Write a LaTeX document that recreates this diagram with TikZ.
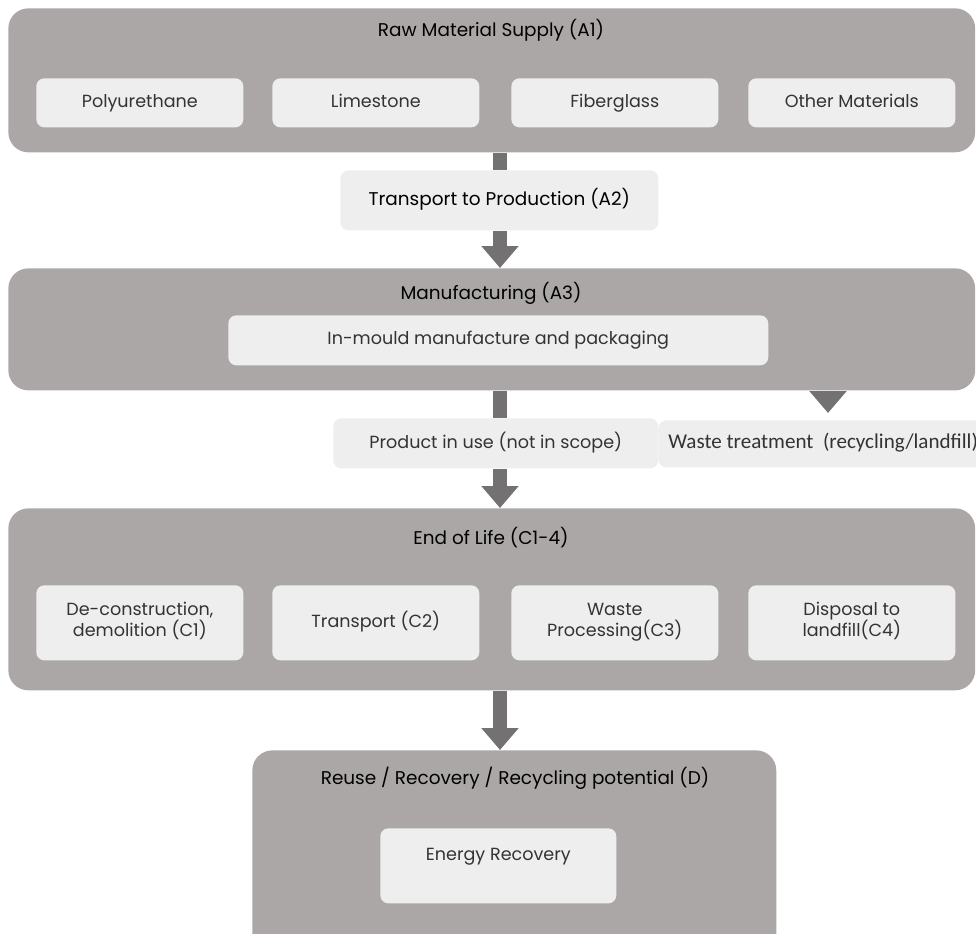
\documentclass[tikz,border=0pt]{standalone}
\usepackage{fontspec}
\setmainfont{Poppins}
\newfontfamily\calfont{Carlito}
\usetikzlibrary{arrows.meta,positioning}
\definecolor{boxgray}{HTML}{ABA7A7}
\definecolor{cellgray}{HTML}{EEEEEE}
\definecolor{flowgray}{HTML}{737171}

\begin{document}
\begin{tikzpicture}[x=0.02cm,y=-0.02cm,
  stage/.style={fill=boxgray,rounded corners=0.4cm,anchor=north west,inner sep=0},
  cell/.style={fill=cellgray,rounded corners=0.16cm,anchor=north west,inner sep=0,
    align=center,text=black!80,font=\fontsize{10}{12}\selectfont,
    execute at begin node=\strut,execute at end node=\strut},
  title/.style={text=black,font=\fontsize{10.5}{12}\selectfont},
  flow/.style={draw=flowgray,line width=0.28cm},
  head/.style={-{Triangle[width=0.72cm,length=0.44cm]}}]
  \useasboundingbox (0,0) rectangle (976,933);

  % raw material supply
  \node[stage,minimum width=19.34cm,minimum height=2.88cm] (A1) at (8,8) {};
  \node[title] (A1t) at (491,30) {Raw Material Supply (A1)};
  \node[cell,minimum width=4.14cm,minimum height=0.98cm] (poly) at (36,78)  {Polyurethane};
  \node[cell,minimum width=4.14cm,minimum height=0.98cm] (lime) at (272,78) {Limestone};
  \node[cell,minimum width=4.14cm,minimum height=0.98cm] (fibre) at (511,78) {Fiberglass};
  \node[cell,minimum width=4.14cm,minimum height=0.98cm] (other) at (748,78) {Other Materials};

  % transport
  \node[cell,minimum width=6.36cm,minimum height=1.2cm,text=black,font=\fontsize{10.5}{12}\selectfont] (A2) at (340,170) {Transport to Production (A2)};

  % manufacturing
  \node[stage,minimum width=19.34cm,minimum height=2.44cm] (A3) at (8,268) {};
  \node[title] (A3t) at (491,293) {Manufacturing (A3)};
  \node[cell,minimum width=10.8cm,minimum height=1.0cm] (mould) at (228,315) {In-mould manufacture and packaging};

  % use and waste
  \node[cell,minimum width=6.5cm,minimum height=1.0cm] (use) at (333,418) {Product in use (not in scope)};
  \node[cell,minimum width=6.8cm,minimum height=0.94cm] (waste) at (658,420) {};
  \node[anchor=west,inner sep=0,text=black!80,font=\calfont\fontsize{12}{14}\selectfont] (wastet) at (668,443) {Waste treatment\ \ (recycling/landfill)};
  \coordinate (wastein) at (828,413);

  % end of life
  \node[stage,minimum width=19.34cm,minimum height=3.64cm] (EoL) at (8,508) {};
  \node[title] (EoLt) at (491,538) {End of Life (C1-4)};
  \node[cell,minimum width=4.14cm,minimum height=1.5cm] (C1) at (36,585)  {De-construction,\\demolition (C1)};
  \node[cell,minimum width=4.14cm,minimum height=1.5cm] (C2) at (272,585) {Transport (C2)};
  \node[cell,minimum width=4.14cm,minimum height=1.5cm] (C3) at (511,585) {Waste\\Processing(C3)};
  \node[cell,minimum width=4.14cm,minimum height=1.5cm] (C4) at (748,585) {Disposal to\\landfill(C4)};

  % module D
  \node[stage,minimum width=10.48cm,minimum height=4.2cm] (D) at (252,750) {};
  \node[title] (Dt) at (515,778) {Reuse / Recovery / Recycling potential (D)};
  \node[cell,minimum width=4.72cm,minimum height=1.5cm] (energy) at (380,828) {Energy Recovery\\[-2pt]~};

  % connectors
  \draw[flow] (A1.south -| 500,0) -- (A2.north -| 500,0);
  \draw[flow,head] (A2.south -| 500,0) -- (A3.north -| 500,0);
  \draw[flow] (A3.south -| 500,0) -- (use.north -| 500,0);
  \draw[flow,head] (A3.south -| wastein) -- (wastein);
  \draw[flow,head] (use.south -| 500,0) -- (EoL.north -| 500,0);
  \draw[flow,head] (EoL.south -| 500,0) -- (D.north -| 500,0);
\end{tikzpicture}
\end{document}
